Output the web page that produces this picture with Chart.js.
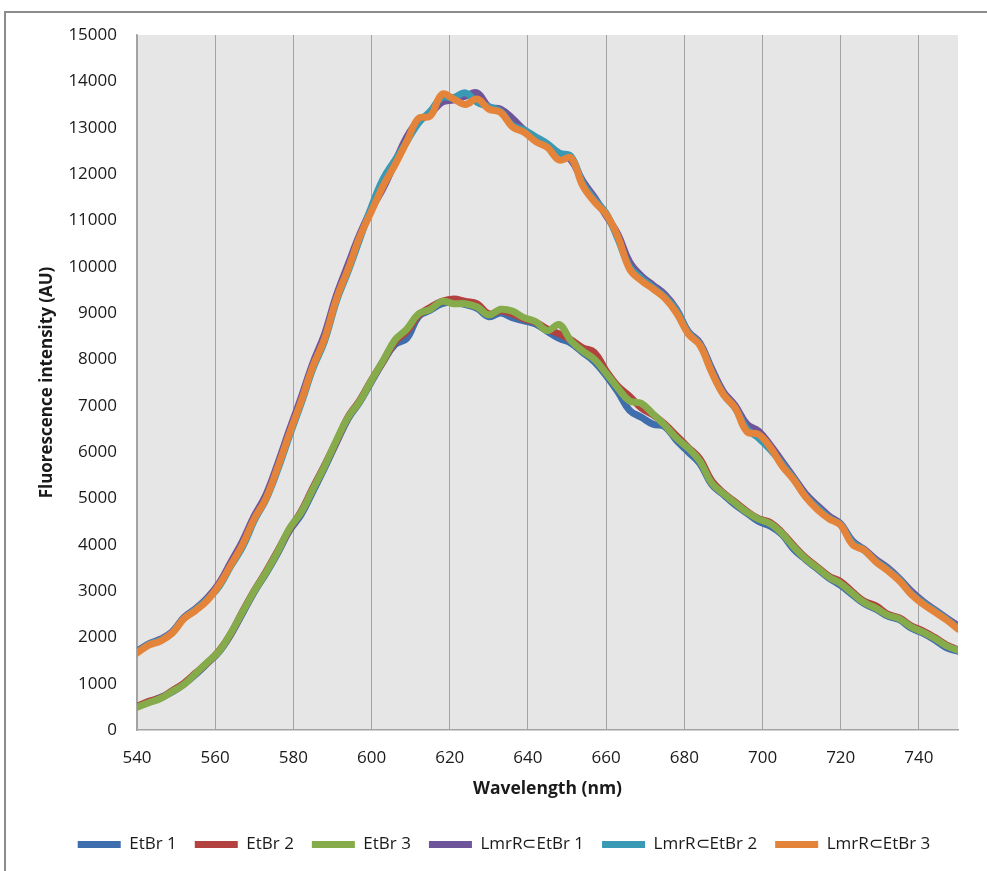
<!DOCTYPE html>
<html>
<head>
<meta charset="utf-8">
<script src="https://cdn.jsdelivr.net/npm/chart.js@4.4.1/dist/chart.umd.min.js"></script>
<style>
  html, body { margin: 0; padding: 0; background: #fff; overflow: hidden; }
  #wrap { position: relative; width: 987px; height: 871px; }
  #frame { position: absolute; left: 4px; top: 11px; width: 1000px; height: 900px;
           border-left: 2px solid #8c8c8c; border-top: 2px solid #8c8c8c; }
  canvas { position: absolute; left: 0; top: 0; }
</style>
</head>
<body>
<div id="wrap">
  <div id="frame"></div>
  <canvas id="chart" width="987" height="871"></canvas>
</div>
<script>
// wavelength (nm), every 3 nm
const wavelengths = [540, 543, 546, 549, 552, 555, 558, 561, 564, 567, 570, 573, 576, 579, 582, 585,
  588, 591, 594, 597, 600, 603, 606, 609, 612, 615, 618, 621, 624, 627, 630, 633, 636, 639, 642,
  645, 648, 651, 654, 657, 660, 663, 666, 669, 672, 675, 678, 681, 684, 687, 690, 693, 696, 699,
  702, 705, 708, 711, 714, 717, 720, 723, 726, 729, 732, 735, 738, 741, 744, 747, 750];

const etbr1 = [500, 600, 700, 820, 990, 1200, 1440, 1690, 2060, 2520, 2980, 3380, 3820, 4300, 4650,
  5150, 5660, 6200, 6720, 7080, 7520, 7950, 8320, 8450, 8920, 9060, 9200, 9230, 9180, 9100, 8920,
  9000, 8900, 8830, 8760, 8600, 8450, 8350, 8150, 7950, 7650, 7300, 6900, 6750, 6600, 6550, 6250,
  6000, 5750, 5300, 5080, 4860, 4680, 4500, 4400, 4220, 3900, 3680, 3480, 3280, 3120, 2920, 2730,
  2610, 2460, 2380, 2200, 2090, 1950, 1780, 1700];

const etbr2 = [510, 620, 690, 850, 1010, 1230, 1450, 1710, 2080, 2560, 3010, 3420, 3870, 4330, 4720,
  5230, 5720, 6230, 6760, 7120, 7560, 7960, 8380, 8600, 8950, 9120, 9250, 9300, 9250, 9200, 8980,
  9050, 8980, 8870, 8800, 8650, 8550, 8420, 8250, 8150, 7750, 7420, 7200, 6950, 6800, 6600, 6350,
  6100, 5850, 5380, 5120, 4920, 4720, 4560, 4480, 4260, 3980, 3720, 3520, 3320, 3200, 2980, 2780,
  2680, 2500, 2420, 2250, 2140, 2000, 1840, 1730];

const etbr3 = [490, 590, 680, 830, 980, 1220, 1460, 1700, 2090, 2550, 3000, 3400, 3850, 4350, 4700,
  5200, 5700, 6250, 6750, 7100, 7550, 7980, 8420, 8650, 8980, 9080, 9250, 9200, 9200, 9130, 8960,
  9080, 9040, 8900, 8810, 8620, 8750, 8400, 8180, 8000, 7700, 7380, 7100, 7050, 6820, 6580, 6300,
  6080, 5800, 5330, 5100, 4900, 4700, 4550, 4450, 4240, 3950, 3700, 3500, 3300, 3160, 2950, 2750,
  2630, 2480, 2400, 2230, 2110, 1980, 1820, 1720];

const lmrr1 = [1700, 1860, 1960, 2120, 2430, 2620, 2850, 3170, 3620, 4080, 4620, 5080, 5750, 6480,
  7180, 7920, 8550, 9380, 10050, 10700, 11250, 11700, 12250, 12800, 13150, 13300, 13550, 13600,
  13680, 13750, 13450, 13400, 13200, 12950, 12750, 12600, 12450, 12300, 11850, 11500, 11100, 10700,
  10100, 9800, 9600, 9400, 9080, 8600, 8350, 7800, 7300, 7000, 6600, 6450, 6150, 5800, 5450, 5100,
  4850, 4620, 4450, 4080, 3900, 3680, 3500, 3270, 3000, 2780, 2600, 2420, 2250];

const lmrr2 = [1680, 1850, 1940, 2100, 2410, 2600, 2820, 3100, 3540, 3950, 4520, 4980, 5620, 6350,
  7050, 7800, 8400, 9250, 9900, 10600, 11300, 11900, 12300, 12700, 13100, 13350, 13650, 13650,
  13750, 13550, 13450, 13350, 13050, 12950, 12800, 12650, 12450, 12380, 11800, 11450, 11150, 10600,
  10000, 9750, 9550, 9350, 9050, 8580, 8320, 7750, 7250, 6950, 6500, 6300, 6050, 5750, 5420, 5050,
  4800, 4580, 4430, 4050, 3880, 3650, 3470, 3250, 2950, 2750, 2580, 2400, 2200];

const lmrr3 = [1660, 1830, 1920, 2090, 2400, 2580, 2800, 3130, 3560, 4000, 4560, 5000, 5670, 6400,
  7100, 7850, 8450, 9300, 9950, 10650, 11200, 11750, 12200, 12700, 13200, 13250, 13720, 13620,
  13500, 13620, 13400, 13330, 13020, 12900, 12700, 12570, 12300, 12350, 11750, 11400, 11130, 10650,
  9950, 9700, 9520, 9320, 9000, 8550, 8300, 7720, 7240, 6950, 6440, 6380, 6100, 5700, 5400, 5030,
  4760, 4560, 4420, 4000, 3880, 3630, 3440, 3220, 2930, 2720, 2550, 2380, 2180];

const seriesNames = ['EtBr 1', 'EtBr 2', 'EtBr 3', 'LmrR\u2282EtBr 1', 'LmrR\u2282EtBr 2', 'LmrR\u2282EtBr 3'];
const seriesValues = [etbr1, etbr2, etbr3, lmrr1, lmrr2, lmrr3];
const seriesColors = ['#3f6eae', '#b2413f', '#86ab4a', '#6e549a', '#3a9ab6', '#e3843a'];

const xTicks = [540, 560, 580, 600, 620, 640, 660, 680, 700, 720, 740];
const yTicks = [0, 1000, 2000, 3000, 4000, 5000, 6000, 7000, 8000, 9000, 10000, 11000, 12000,
  13000, 14000, 15000];

Chart.defaults.font.family = "'Open Sans', sans-serif";
Chart.defaults.color = '#1a1a1a';

const plotBg = {
  id: 'plotBg',
  beforeDraw(chart) {
    const { ctx, chartArea: a } = chart;
    ctx.save();
    ctx.fillStyle = '#e6e6e6';
    ctx.fillRect(a.left, a.top, a.right - a.left, a.bottom - a.top);
    ctx.restore();
  },
};

const datasets = seriesValues.map((vals, i) => ({
  label: seriesNames[i],
  data: vals.map((v, k) => ({ x: wavelengths[k], y: v })),
  borderColor: seriesColors[i],
  backgroundColor: seriesColors[i],
  borderWidth: 7,
  borderCapStyle: 'round',
  borderJoinStyle: 'round',
  pointRadius: 0,
  tension: 0.4,
  clip: 0,
  order: seriesValues.length - 1 - i,
}));

new Chart(document.getElementById('chart'), {
  type: 'line',
  data: { datasets },
  options: {
    responsive: false,
    animation: false,
    devicePixelRatio: 1,
    layout: { padding: { left: 50, right: 29, top: 35, bottom: 8 } },
    plugins: {
      tooltip: { enabled: false },
      legend: {
        position: 'bottom',
        labels: {
          usePointStyle: true,
          pointStyle: 'line',
          pointStyleWidth: 43,
          padding: 18,
          font: { size: 17 },
          sort: (a, b) => a.datasetIndex - b.datasetIndex,
        },
      },
    },
    scales: {
      x: {
        type: 'linear',
        min: 540,
        max: 750,
        afterBuildTicks: s => { s.ticks = xTicks.map(v => ({ value: v })); },
        afterFit: s => { s.height = 88; },
        grid: { color: '#a3a3a3', lineWidth: 1, drawTicks: false },
        border: { color: '#a3a3a3', width: 1.5 },
        ticks: { padding: 18, font: { size: 17 }, maxRotation: 0 },
        title: {
          display: true,
          text: 'Wavelength (nm)',
          font: { size: 17.5, weight: 'bold' },
          padding: { top: 0, bottom: 18 },
        },
      },
      y: {
        min: 0,
        max: 15000,
        afterBuildTicks: s => { s.ticks = yTicks.map(v => ({ value: v })); },
        afterFit: s => { s.width = 87; },
        grid: { display: false, drawTicks: false },
        border: { color: '#a3a3a3', width: 1.5 },
        ticks: { padding: 20, font: { size: 17 }, callback: v => String(v) },
        title: {
          display: true,
          text: 'Fluorescence intensity (AU)',
          font: { size: 17, weight: 'bold' },
          padding: { top: -13, bottom: 0 },
        },
      },
    },
  },
  plugins: [plotBg],
});
</script>
</body>
</html>
